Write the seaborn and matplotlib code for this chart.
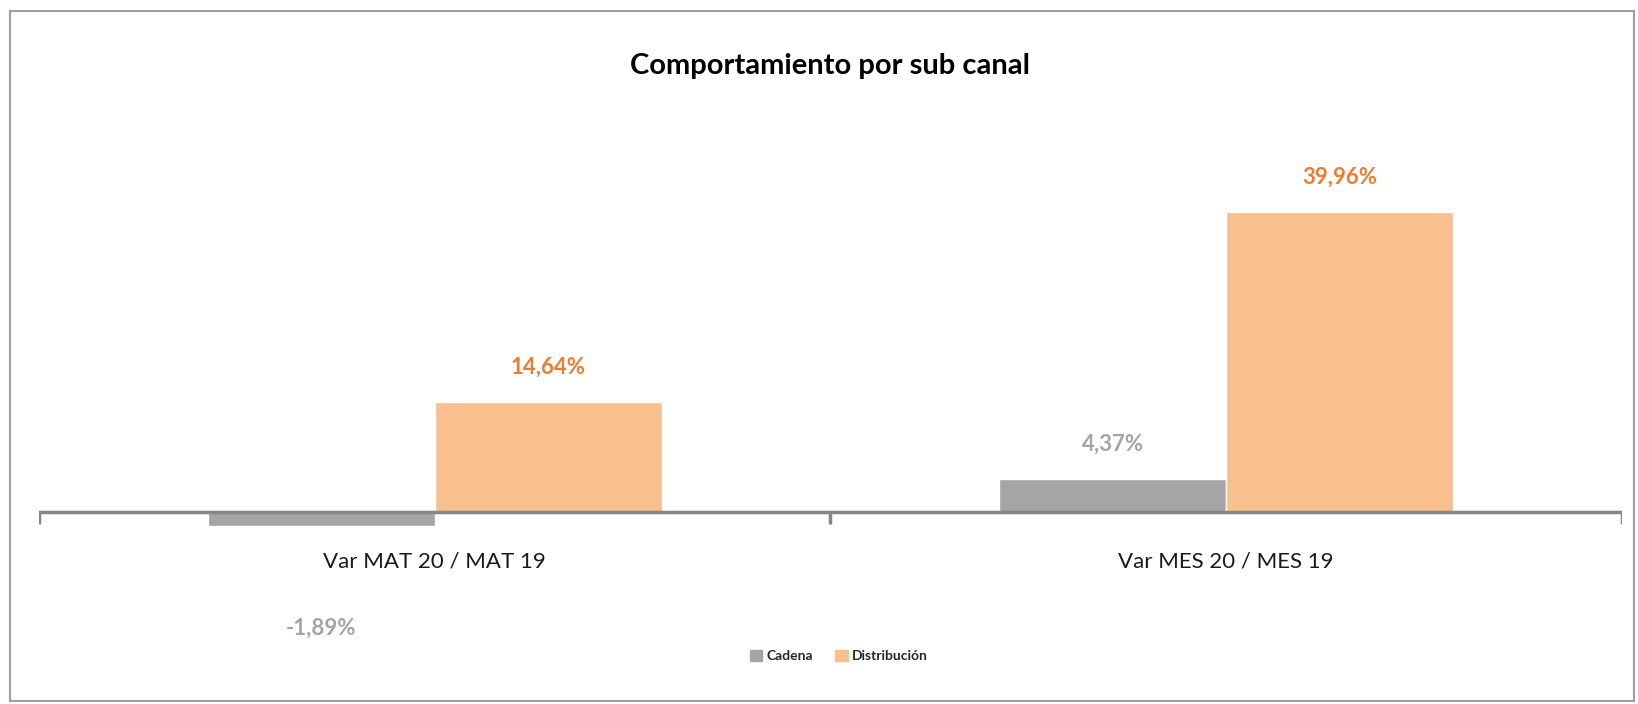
"""
Comportamiento por sub canal - barras agrupadas
"""

import pandas as pd
import matplotlib.pyplot as plt
from matplotlib.patches import Rectangle
import seaborn as sns

# datos
categorias = ['Var MAT 20 / MAT 19', 'Var MES 20 / MES 19']
series = ['Cadena', 'Distribución']
cadena = [-1.89, 4.37]
distribucion = [14.64, 39.96]

df = pd.DataFrame({
    'categoria': categorias * 2,
    'serie': [series[0]] * 2 + [series[1]] * 2,
    'valor': cadena + distribucion,
})

colores = {'Cadena': '#A5A5A5', 'Distribución': '#F8BF8F'}
color_etiqueta = {'Cadena': '#A5A5A5', 'Distribución': '#ED7D31'}

sns.set_style('white')
plt.rcParams['font.family'] = ['Lato', 'DejaVu Sans']

fig = plt.figure(figsize=(16.38, 7.04), dpi=100)
ax = fig.add_axes([0.0238, 0.1023, 0.9664, 0.7571])

sns.barplot(data=df, x='categoria', y='valor', hue='serie', order=categorias,
            hue_order=series, palette=colores, width=0.574, gap=0,
            saturation=1, ax=ax, legend=False)

ax.set_xlim(-0.5, 1.5)
ax.set_ylim(-16, 55)
for s in ax.spines.values():
    s.set_visible(False)
ax.set_yticks([])
ax.set_xlabel('')
ax.set_ylabel('')
# etiquetas de categoria justo debajo del eje cero
ax.tick_params(axis='x', length=0, pad=-58, labelsize=16, labelcolor='#1a1a1a')

# eje horizontal en cero con marcas
ax.axhline(0, color='#868686', lw=2.5, zorder=5)
ax.vlines([-0.5, 0.5, 1.5], -1.6, 0, color='#868686', lw=2.5, zorder=5)

# etiquetas de valores
for cont, serie in zip(ax.containers, series):
    for bar in cont:
        v = bar.get_height()
        x = bar.get_x() + bar.get_width() / 2
        off = 35 if v >= 0 else -102
        ax.annotate(f'{v:.2f}%'.replace('.', ','), (x, v), xytext=(0, off),
                    textcoords='offset pixels', ha='center', va='center',
                    fontsize=16, fontweight='bold', color=color_etiqueta[serie])

fig.text(0.507, 0.906, 'Comportamiento por sub canal', ha='center', va='center',
         fontsize=21, fontweight='bold', color='black')

handles = [Rectangle((0, 0), 1, 1, color=colores[s]) for s in series]
fig.legend(handles, series, loc='center', bbox_to_anchor=(0.512, 0.068), ncol=2,
           frameon=False, handlelength=0.9, handleheight=0.9,
           columnspacing=1.6, handletextpad=0.3,
           prop={'weight': 'bold', 'size': 10})

# borde del grafico
fig.patches.append(Rectangle((10 / 1638, 3 / 704), 1624 / 1638, 690 / 704,
                             transform=fig.transFigure, fill=False,
                             edgecolor='#A0A0A0', lw=1.5))

plt.savefig('out.png', dpi=100)
plt.close()
